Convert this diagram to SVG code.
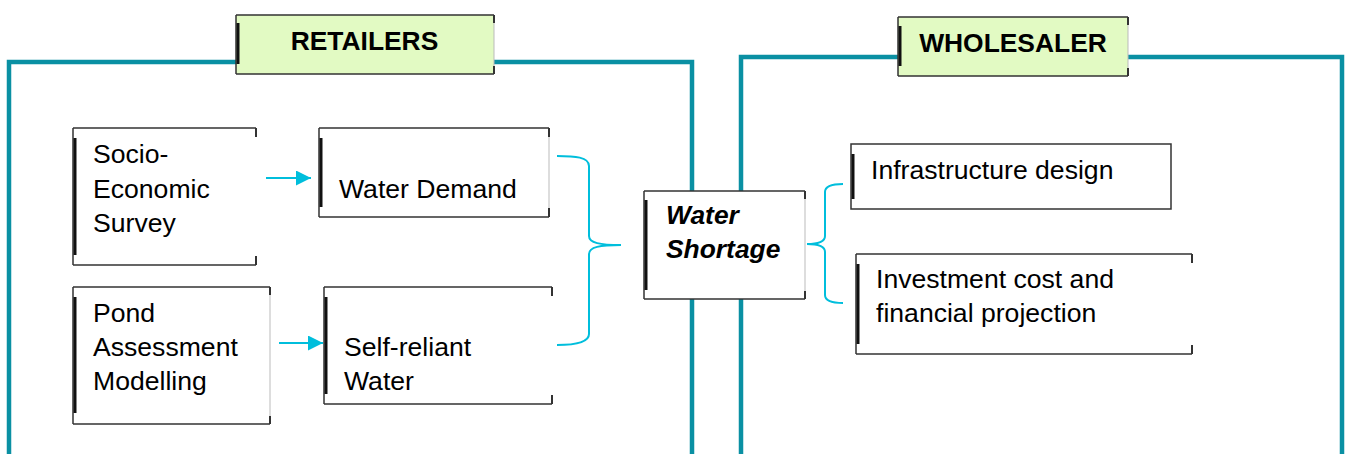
<svg xmlns="http://www.w3.org/2000/svg" width="1347" height="454" viewBox="0 0 1347 454">
<style>
.frame{fill:none;stroke:#0A90A3;stroke-width:4.5}
.bg{fill:#ffffff}
.hbg{fill:#E2FAC3}
.edge{fill:none;stroke:#333;stroke-width:1.5}
.rside{fill:none;stroke:#bbb;stroke-width:1}
.tick{fill:none;stroke:#333;stroke-width:2}
.bar{fill:none;stroke:#111;stroke-width:3}
.t{font-family:"Liberation Sans",Arial,sans-serif;font-size:26.6px;fill:#000}
.h{font-family:"Liberation Sans",Arial,sans-serif;font-size:26.4px;font-weight:bold;fill:#000}
.ws{font-family:"Liberation Sans",Arial,sans-serif;font-size:26.4px;font-weight:bold;font-style:italic;fill:#000}
.conn{fill:none;stroke:#00BEDC;stroke-width:2}
</style>
<defs>
<marker id="ah" viewBox="0 0 10 10" refX="10" refY="5" markerWidth="16" markerHeight="15" markerUnits="userSpaceOnUse" orient="auto">
<path d="M0,0 L10,5 L0,10 Z" fill="#00BEDC"/>
</marker>
</defs>

<g id="frames">
<path class="frame" d="M9,456 V62 H692 V456"/>
<path class="frame" d="M741,456 V57 H1342 V456"/>
</g>

<g id="connectors">
<line class="conn" x1="266" y1="178" x2="311" y2="178" marker-end="url(#ah)"/>
<line class="conn" x1="279" y1="343" x2="323" y2="343" marker-end="url(#ah)"/>
<path class="conn" d="M557,156 C575,156 589,157 589,166 V236 C589,243 600,245 621,245 C600,245 589,247 589,254 V334 C589,342 575,345 557,345"/>
<path class="conn" d="M843,184 C833,184 825,186 825,192 V236 C825,242 818,244 807,244 C818,244 825,246 825,252 V295 C825,301 833,303 843,303"/>
</g>

<g id="retailers">
<rect class="hbg" x="236" y="15" width="258" height="59"/>
<path class="edge" d="M236,15 H494 M236,74 H494 M236,15 V74"/>
<path class="rside" d="M494,15 V74"/>
<path class="tick" d="M494,15 v8 M494,74 v-8"/>
<path class="bar" d="M238,23 V64"/>
<text class="h" x="364.5" y="50" text-anchor="middle">RETAILERS</text>
</g>

<g id="wholesaler">
<rect class="hbg" x="898" y="17" width="230" height="59"/>
<path class="edge" d="M898,17 H1128 M898,76 H1128 M898,17 V76"/>
<path class="rside" d="M1128,17 V76"/>
<path class="tick" d="M1128,17 v8 M1128,76 v-8"/>
<path class="bar" d="M900,26 V66"/>
<text class="h" x="1013" y="52" text-anchor="middle">WHOLESALER</text>
</g>

<g id="socio">
<rect class="bg" x="73" y="128" width="183" height="137"/>
<path class="edge" d="M73,128 H256 M73,265 H256 M73,128 V265"/>
<path class="tick" d="M256,128 v9 M256,265 v-9"/>
<path class="bar" d="M75,138 V255"/>
<text class="t" x="93" y="163">Socio-</text>
<text class="t" x="93" y="198">Economic</text>
<text class="t" x="93" y="232">Survey</text>
</g>

<g id="demand">
<rect class="bg" x="319" y="128" width="230" height="89"/>
<path class="edge" d="M319,128 H549 M319,217 H549 M319,128 V217"/>
<path class="rside" d="M549,128 V217"/>
<path class="tick" d="M549,128 v9 M549,217 v-9"/>
<path class="bar" d="M321,138 V207"/>
<text class="t" x="339" y="198">Water Demand</text>
</g>

<g id="pond">
<rect class="bg" x="73" y="287" width="197" height="137"/>
<path class="edge" d="M73,287 H270 M73,424 H270 M73,287 V424"/>
<path class="rside" d="M270,287 V424"/>
<path class="tick" d="M270,287 v8 M270,424 v-8"/>
<path class="bar" d="M75,297 V413"/>
<text class="t" x="93" y="322">Pond</text>
<text class="t" x="93" y="356">Assessment</text>
<text class="t" x="93" y="390">Modelling</text>
</g>

<g id="selfreliant">
<rect class="bg" x="324" y="287" width="228" height="117"/>
<path class="edge" d="M324,287 H552 M324,404 H552 M324,287 V404"/>
<path class="tick" d="M552,287 v9 M552,404 v-9"/>
<path class="bar" d="M326,297 V394"/>
<text class="t" x="344" y="356">Self-reliant</text>
<text class="t" x="344" y="390">Water</text>
</g>

<g id="shortage">
<rect class="bg" x="644" y="191" width="161" height="108"/>
<path class="edge" d="M644,191 H805 M644,299 H805 M644,191 V299"/>
<path class="rside" d="M805,191 V299"/>
<path class="tick" d="M805,191 v8 M805,299 v-8"/>
<path class="bar" d="M646,200 V290"/>
<text class="ws" x="666" y="224">Water</text>
<text class="ws" x="666" y="258">Shortage</text>
</g>

<g id="infrastructure">
<rect class="bg" x="851" y="144" width="320" height="65"/>
<path class="edge" d="M851,144 H1171 V209 H851 Z"/>
<path class="bar" d="M853,154 V199"/>
<text class="t" x="871" y="179">Infrastructure design</text>
</g>

<g id="investment">
<rect class="bg" x="856" y="254" width="336" height="100"/>
<path class="edge" d="M856,254 H1192 M856,354 H1192 M856,254 V354"/>
<path class="tick" d="M1192,254 v9 M1192,354 v-9"/>
<path class="bar" d="M858,264 V344"/>
<text class="t" x="876" y="288">Investment cost and</text>
<text class="t" x="876" y="322">financial projection</text>
</g>
</svg>
